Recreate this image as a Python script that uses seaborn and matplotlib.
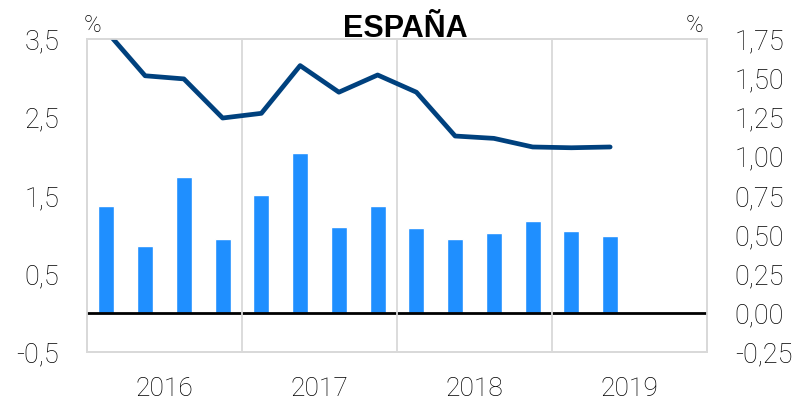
import numpy as np
import pandas as pd
import matplotlib
matplotlib.use("Agg")
import matplotlib.pyplot as plt
from matplotlib.ticker import MultipleLocator, FixedLocator
import seaborn as sns

sns.set_style("white")
plt.rcParams['font.family'] = ['Roboto', 'Liberation Sans', 'DejaVu Sans']
plt.rcParams['font.weight'] = 'light'
plt.rcParams['text.color'] = 'black'
plt.rcParams['xtick.color'] = 'black'
plt.rcParams['ytick.color'] = 'black'

# PIB España: tasa interanual (eje izq.) y tasa trimestral (eje dcho.)
trimestres = ['2016T1', '2016T2', '2016T3', '2016T4',
              '2017T1', '2017T2', '2017T3', '2017T4',
              '2018T1', '2018T2', '2018T3', '2018T4',
              '2019T1', '2019T2']
anios = ['2016', '2017', '2018', '2019']
tasa_interanual = [3.60, 3.03, 2.99, 2.49, 2.55, 3.16, 2.82, 3.04,
                   2.82, 2.26, 2.23, 2.12, 2.11, 2.12]
tasa_trimestral = [0.68, 0.43, 0.87, 0.47, 0.75, 1.02, 0.55, 0.68,
                   0.54, 0.47, 0.51, 0.59, 0.52, 0.49]

df = pd.DataFrame({'trimestre': trimestres,
                   'interanual': tasa_interanual,
                   'trimestral': tasa_trimestral})
df['pos'] = np.arange(len(df))

gris = '#d9d9d9'

fig = plt.figure(figsize=(8.04, 4.04), dpi=100)
ax = fig.add_axes([0.1082, 0.1287, 0.7712, 0.7748])
ax2 = ax.twinx()

sns.barplot(data=df, x='trimestre', y='trimestral', ax=ax2,
            color='#1f8fff', width=0.41, saturation=1)
sns.lineplot(data=df, x='pos', y='interanual', ax=ax,
             color='#00417e', linewidth=3.4)

ax.set_zorder(ax2.get_zorder() + 1)
ax.patch.set_visible(False)

ax.set_xlim(-0.5, 4 * len(anios) - 0.5)
ax.set_ylim(-0.5, 3.5)
ax2.set_ylim(-0.25, 1.75)

# ejes y
ax.set_yticks([-0.5, 0.5, 1.5, 2.5, 3.5])
ax.set_yticklabels([f'{v:.1f}'.replace('.', ',') for v in ax.get_yticks()])
dticks = np.arange(-0.25, 1.76, 0.25)
ax2.set_yticks(dticks)
ax2.set_yticklabels([f'{v:.2f}'.replace('.', ',') for v in dticks])

# eje x: años centrados, separadores entre años
ax.set_xticks([4 * i + 1.5 for i in range(len(anios))])
ax.set_xticklabels(anios)
ax.xaxis.set_minor_locator(FixedLocator([4 * i - 0.5 for i in range(1, len(anios))]))
ax.grid(which='minor', axis='x', color=gris, lw=1.3)
ax.grid(which='major', axis='x', visible=False)
ax.grid(which='major', axis='y', visible=False)

ax2.yaxis.set_minor_locator(MultipleLocator(0.5, offset=0.25))
ax2.set_axisbelow(True)
ax2.grid(which='minor', axis='y', color=gris, lw=1.3)
ax2.grid(which='major', axis='y', visible=False)
ax2.axhline(0, color='black', lw=2, zorder=3)

for a in (ax, ax2):
    a.set_xlabel('')
    a.set_ylabel('')
    for s in a.spines.values():
        s.set_color(gris)
        s.set_linewidth(1.3)
    a.tick_params(which='both', length=0, labelsize=19.5)

ax.tick_params(axis='y', pad=20)
ax2.tick_params(axis='y', pad=20)
ax.tick_params(axis='x', pad=18, labelsize=19)

fig.text(405 / 804, 1 - 37 / 404, 'ESPAÑA', ha='center', va='baseline',
         fontsize=22, fontweight='bold', family=['Liberation Sans', 'DejaVu Sans'])
fig.text(93 / 804, 1 - 32 / 404, '%', ha='center', va='baseline', fontsize=17)
fig.text(695 / 804, 1 - 32 / 404, '%', ha='center', va='baseline', fontsize=17)

fig.savefig('out.png', dpi=100)
